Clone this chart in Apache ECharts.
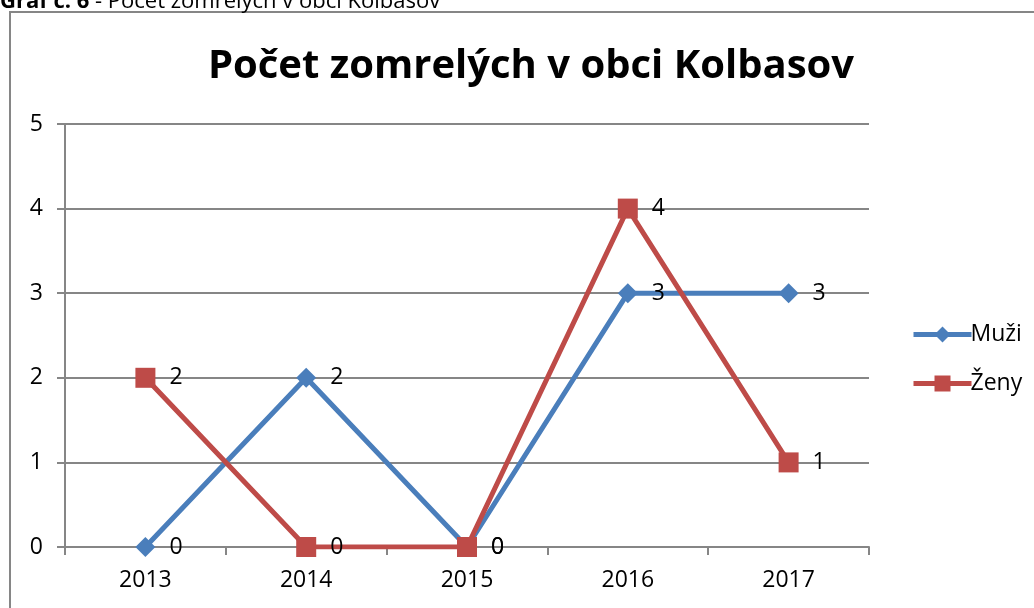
<!DOCTYPE html>
<html>
<head>
<meta charset="utf-8">
<script src="https://cdn.jsdelivr.net/npm/echarts@6/dist/echarts.min.js"></script>
<style>
  html, body { margin: 0; padding: 0; background: #fff; }
  #chart { width: 1034px; height: 608px; }
</style>
</head>
<body>
<div id="chart"></div>
<script>
const years = ["2013", "2014", "2015", "2016", "2017"];
const muzi = [0, 2, 0, 3, 3];
const zeny = [2, 0, 0, 4, 1];
const yTicks = [0, 1, 2, 3, 4, 5];

const chart = echarts.init(document.getElementById("chart"));

const font = "'Open Sans', Calibri, sans-serif";
const blue = "#4A7EBB";
const red = "#BE4B48";

const labelStyle = {
  show: true,
  position: "right",
  distance: 14,
  color: "#000",
  fontSize: 23,
  fontFamily: font,
};

chart.setOption({
  animation: false,
  textStyle: { fontFamily: font },
  graphic: [
    {
      type: "rect",
      shape: { x: 10, y: 12, width: 1040, height: 620 },
      style: { fill: "none", stroke: "#868686", lineWidth: 2 },
    },
    {
      type: "text",
      left: 0,
      top: -9,
      style: {
        text: "{b|Graf č. 6} - Počet zomrelých v obci Kolbasov",
        rich: {
          b: { fontWeight: "bold", fontSize: 22, fontFamily: font, fill: "#000" },
        },
        fontSize: 22,
        fontFamily: font,
        fill: "#000",
      },
    },
  ],
  title: {
    text: "Počet zomrelých v obci Kolbasov",
    left: 526,
    textAlign: "center",
    top: 42,
    textStyle: {
      fontSize: 40,
      fontWeight: "bold",
      color: "#000",
      fontFamily: font,
    },
  },
  legend: {
    orient: "vertical",
    left: 906,
    top: 318,
    itemWidth: 58,
    itemHeight: 20,
    itemGap: 26,
    textStyle: { fontSize: 23, color: "#000", fontFamily: font, padding: [0, 0, 0, -6] },
    data: [
      { name: "Muži", lineStyle: { width: 5, color: blue } },
      { name: "Ženy", lineStyle: { width: 5, color: red } },
    ],
  },
  grid: {
    left: 65,
    right: 165,
    top: 124,
    bottom: 61,
    containLabel: false,
  },
  xAxis: {
    type: "category",
    data: years,
    boundaryGap: true,
    axisLine: { lineStyle: { color: "#868686", width: 2 } },
    axisTick: { show: true, length: 8, lineStyle: { color: "#868686", width: 2 } },
    axisLabel: { color: "#000", fontSize: 23, margin: 22, fontFamily: font },
  },
  yAxis: {
    type: "value",
    min: yTicks[0],
    max: yTicks[yTicks.length - 1],
    interval: 1,
    axisLine: { show: true, lineStyle: { color: "#868686", width: 2 } },
    axisTick: { show: true, length: 8, lineStyle: { color: "#868686", width: 2 } },
    splitLine: { lineStyle: { color: "#868686", width: 2 } },
    axisLabel: { color: "#000", fontSize: 23, margin: 22, fontFamily: font },
  },
  series: [
    {
      name: "Muži",
      type: "line",
      data: muzi,
      symbol: "diamond",
      symbolSize: 20,
      lineStyle: { width: 5, color: blue },
      itemStyle: { color: blue },
      label: labelStyle,
      z: 2,
    },
    {
      name: "Ženy",
      type: "line",
      data: zeny,
      symbol: "rect",
      symbolSize: 20,
      lineStyle: { width: 5, color: red },
      itemStyle: { color: red },
      label: labelStyle,
      z: 3,
    },
  ],
});
</script>
</body>
</html>
